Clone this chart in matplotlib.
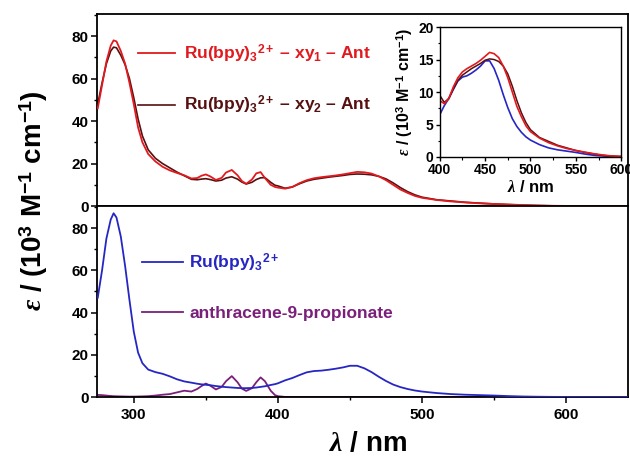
import matplotlib
matplotlib.use("Agg")
import matplotlib.pyplot as plt
from matplotlib.ticker import MultipleLocator

plt.rcParams["font.family"] = ["Liberation Sans", "DejaVu Sans"]
plt.rcParams["font.weight"] = "bold"
plt.rcParams["mathtext.fontset"] = "custom"
plt.rcParams["mathtext.rm"] = "Liberation Sans:bold"
plt.rcParams["mathtext.bf"] = "Liberation Sans:bold"
plt.rcParams["mathtext.it"] = "Liberation Serif:italic"

# wavelength grid (nm) and molar absorptivity (10^3 M^-1 cm^-1)
wavelength = [275, 278, 281, 284, 286, 288, 291, 294, 297, 300, 303, 306, 310, 315,
              320, 325, 330, 335, 340, 344, 347, 350, 353, 357, 361, 364, 368, 372,
              375, 378, 382, 385, 388, 391, 395, 398, 400, 405, 410, 415, 420, 425,
              430, 435, 440, 445, 450, 455, 460, 465, 470, 475, 480, 485, 490, 495,
              500, 510, 520, 530, 540, 550, 560, 570, 580, 590, 600, 620, 645]

ru_bpy = [47, 60, 75, 84, 87, 85, 76, 62, 46, 31, 21, 16, 13, 11.8,
          11.0, 9.8, 8.4, 7.4, 6.8, 6.3, 6.0, 5.8, 5.6, 5.2, 4.9, 4.7, 4.5, 4.3,
          4.2, 4.2, 4.3, 4.5, 4.8, 5.1, 5.7, 6.1, 6.5, 7.9, 9.0, 10.4, 11.7, 12.3,
          12.5, 12.9, 13.4, 14.0, 14.8, 14.8, 13.6, 11.8, 9.6, 7.6, 5.9, 4.7, 3.8, 3.1,
          2.6, 1.9, 1.4, 1.1, 0.9, 0.7, 0.45, 0.25, 0.15, 0.08, 0.05, 0.02, 0.0]

anthracene = [1.0, 0.9, 0.7, 0.5, 0.4, 0.35, 0.3, 0.25, 0.2, 0.2, 0.25, 0.3, 0.4, 0.7,
              1.1, 1.4, 2.2, 3.0, 2.6, 3.8, 5.2, 6.4, 5.4, 3.6, 4.8, 7.5, 9.9, 7.0,
              4.0, 2.9, 4.2, 7.0, 9.3, 7.5, 3.0, 0.9, 0.4, 0.05, 0, 0, 0, 0,
              0, 0, 0, 0, 0, 0, 0, 0, 0, 0, 0, 0, 0, 0,
              0, 0, 0, 0, 0, 0, 0, 0, 0, 0, 0, 0, 0]

ru_xy1_ant = [46, 57, 68, 75.5, 78, 77.5, 73, 67, 58, 48, 37, 30, 24.5, 21,
              18.5, 16.8, 15.6, 14.5, 13.0, 13.2, 14.3, 14.9, 14.0, 12.3, 13.3, 15.8, 17.0, 14.5,
              11.8, 10.5, 12.5, 15.4, 16.0, 13.2, 10.0, 9.0, 8.7, 8.2, 9.0, 10.8, 12.2, 13.1,
              13.6, 14.0, 14.4, 14.9, 15.5, 16.1, 15.9, 15.3, 14.0, 12.2, 10.0, 7.8, 6.2, 4.8,
              3.9, 2.9, 2.2, 1.7, 1.3, 1.0, 0.75, 0.5, 0.3, 0.15, 0.08, 0.03, 0.0]

ru_xy2_ant = [48, 58, 67, 73, 74.8, 74.5, 71, 66.5, 60, 51, 41, 33, 26.5, 22.5,
              20.0, 18.0, 16.0, 14.3, 12.6, 12.4, 12.7, 12.9, 12.5, 11.8, 12.2, 13.2, 13.8, 12.7,
              11.3, 10.4, 11.2, 12.5, 13.3, 13.4, 11.2, 9.8, 9.5, 8.4, 9.0, 10.5, 11.8, 12.6,
              13.1, 13.6, 14.0, 14.4, 14.9, 15.1, 15.0, 14.7, 14.0, 12.8, 10.9, 8.7, 6.8, 5.3,
              4.2, 3.0, 2.4, 1.8, 1.4, 1.0, 0.7, 0.45, 0.25, 0.12, 0.06, 0.02, 0.0]

c_red = "#e01a1e"
c_dark = "#561010"
c_blue = "#2626c4"
c_purple = "#7a1f7a"

xy1_label = r"Ru(bpy)$_3$$^{2+}$ – xy$_1$ – Ant"
xy2_label = r"Ru(bpy)$_3$$^{2+}$ – xy$_2$ – Ant"
eps_label = r"$\varepsilon$ / (10$^3$ M$^{-1}$ cm$^{-1}$)"
lam_label = r"$\lambda$ / nm"

fig = plt.figure(figsize=(6.3, 4.59), dpi=100)
ax1 = fig.add_axes([0.154, 0.551, 0.843, 0.4185])
ax2 = fig.add_axes([0.154, 0.135, 0.843, 0.416])
ins = fig.add_axes([0.698, 0.658, 0.288, 0.283])

l1, = ax1.plot(wavelength, ru_xy1_ant, color=c_red, lw=1.3, zorder=3)
l2, = ax1.plot(wavelength, ru_xy2_ant, color=c_dark, lw=1.2, zorder=2)
ax1.legend([l1, l2], [xy1_label, xy2_label], loc="upper left",
           bbox_to_anchor=(0.078, 0.85), frameon=False, fontsize=12.5,
           handlelength=2.1, handletextpad=0.5, labelspacing=1.67,
           labelcolor="linecolor", borderpad=0, borderaxespad=0)

l3, = ax2.plot(wavelength, ru_bpy, color=c_blue, lw=1.3, zorder=3)
l4, = ax2.plot(wavelength, anthracene, color=c_purple, lw=1.3, zorder=2)
ax2.legend([l3, l4], [r"Ru(bpy)$_3$$^{2+}$", "anthracene-9-propionate"],
           loc="upper left", bbox_to_anchor=(0.084, 0.763), frameon=False,
           fontsize=12.5, handlelength=2.4, handletextpad=0.35,
           labelspacing=1.85, labelcolor="linecolor", borderpad=0, borderaxespad=0)

for ax in (ax1, ax2):
    ax.set_xlim(274.5, 643)
    ax.set_ylim(0, 90.4)
    ax.xaxis.set_major_locator(MultipleLocator(100))
    ax.xaxis.set_minor_locator(MultipleLocator(50))
    ax.yaxis.set_major_locator(MultipleLocator(20))
    ax.yaxis.set_minor_locator(MultipleLocator(10))
    ax.tick_params(which="major", direction="out", length=4, width=1.1,
                   labelsize=11, pad=2)
    ax.tick_params(which="minor", direction="out", length=2.5, width=1)
    for s in ax.spines.values():
        s.set_linewidth(1.3)
    for t in ax.get_yticklabels() + ax.get_xticklabels():
        t.set_fontweight("bold")

ax1.tick_params(axis="x", which="both", bottom=False, labelbottom=False)
ax2.tick_params(axis="x", which="major", pad=4)

ins.plot(wavelength, ru_bpy, color=c_blue, lw=1.2)
ins.plot(wavelength, ru_xy2_ant, color=c_dark, lw=1.1)
ins.plot(wavelength, ru_xy1_ant, color=c_red, lw=1.2)
ins.set_xlim(400, 600)
ins.set_ylim(0, 20)
ins.xaxis.set_major_locator(MultipleLocator(50))
ins.xaxis.set_minor_locator(MultipleLocator(25))
ins.yaxis.set_major_locator(MultipleLocator(5))
ins.yaxis.set_minor_locator(MultipleLocator(2.5))
ins.tick_params(which="major", direction="out", length=3, width=1, labelsize=10, pad=1.5)
ins.tick_params(which="minor", direction="out", length=1.8, width=0.8)
for s in ins.spines.values():
    s.set_linewidth(1.0)
for t in ins.get_yticklabels() + ins.get_xticklabels():
    t.set_fontweight("bold")
ins.set_xlabel(lam_label, fontsize=12, fontweight="bold", labelpad=1)
ins.set_ylabel(eps_label, fontsize=11.5, fontweight="bold", labelpad=2)

fig.text(0.053, 0.562, eps_label, rotation=90, ha="center", va="center",
         fontsize=20, fontweight="bold")
fig.text(0.584, 0.033, lam_label, ha="center", va="center",
         fontsize=20, fontweight="bold")

fig.savefig("out.png", dpi=100)
